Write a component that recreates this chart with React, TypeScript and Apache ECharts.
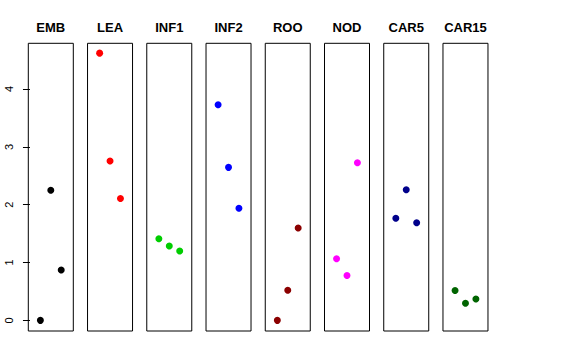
import React, { useEffect, useRef } from "react";
import * as echarts from "echarts";

const panels = ["EMB", "LEA", "INF1", "INF2", "ROO", "NOD", "CAR5", "CAR15"];
const colors = ["#000000", "#FF0000", "#00CD00", "#0000FF", "#8B0000", "#FF00FF", "#00008B", "#006400"];
const xPositions = [1, 2, 3];
const values: number[][] = [
  [0.0, 2.25, 0.87],
  [4.62, 2.755, 2.106],
  [1.412, 1.285, 1.198],
  [3.727, 2.645, 1.939],
  [0.0, 0.521, 1.597],
  [1.065, 0.776, 2.726],
  [1.765, 2.257, 1.689],
  [0.515, 0.295, 0.37],
];
const yTicks = [0, 1, 2, 3, 4];

export default function App() {
  const ref = useRef<HTMLDivElement>(null);
  useEffect(() => {
    if (!ref.current) return;
    const chart = echarts.init(ref.current, null, { renderer: "svg" });
    const font = "'Liberation Sans', Arial, Helvetica, sans-serif";
    const left0 = 28.3;
    const step = 59.24;
    const w = 45;
    const top = 43.3;
    const h = 287.7;
    const yMin = -0.184;
    const yMax = 4.79;
    const grids = panels.map((_, i) => ({
      left: left0 + i * step,
      top,
      width: w,
      height: h,
      show: true,
      borderColor: "#000",
      borderWidth: 1,
      backgroundColor: "transparent",
    }));
    const xAxes = panels.map((_, i) => ({
      type: "value",
      gridIndex: i,
      min: -0.16,
      max: 4.16,
      show: false,
    }));
    const yAxes = panels.map((_, i) => ({
      type: "value",
      gridIndex: i,
      min: yMin,
      max: yMax,
      show: i === 0,
      splitLine: { show: false },
      axisLine: { show: false },
      axisTick: {
        show: i === 0,
        length: 7,
        customValues: yTicks,
        lineStyle: { color: "#000", width: 1 },
      },
      axisLabel: {
        show: i === 0,
        customValues: yTicks,
        rotate: 90,
        margin: 14,
        fontSize: 11,
        color: "#000",
        fontFamily: font,
      },
    }));
    const titles = panels.map((p, i) => ({
      text: p,
      left: left0 + i * step + w / 2,
      top: 21,
      textAlign: "center",
      padding: 0,
      textStyle: { fontSize: 13, fontWeight: "bold", color: "#000", fontFamily: font },
    }));
    const series = panels.map((p, i) => ({
      name: p,
      type: "scatter",
      xAxisIndex: i,
      yAxisIndex: i,
      symbol: "circle",
      symbolSize: 7,
      itemStyle: { color: colors[i], opacity: 1 },
      data: values[i].map((v, j) => [xPositions[j], v]),
    }));
    chart.setOption({
      animation: false,
      backgroundColor: "#fff",
      title: titles,
      grid: grids,
      xAxis: xAxes,
      yAxis: yAxes,
      series,
    });
    return () => chart.dispose();
  }, []);
  return <div ref={ref} style={{ width: 576, height: 360, position: "absolute", left: 0, top: 0 }} />;
}
